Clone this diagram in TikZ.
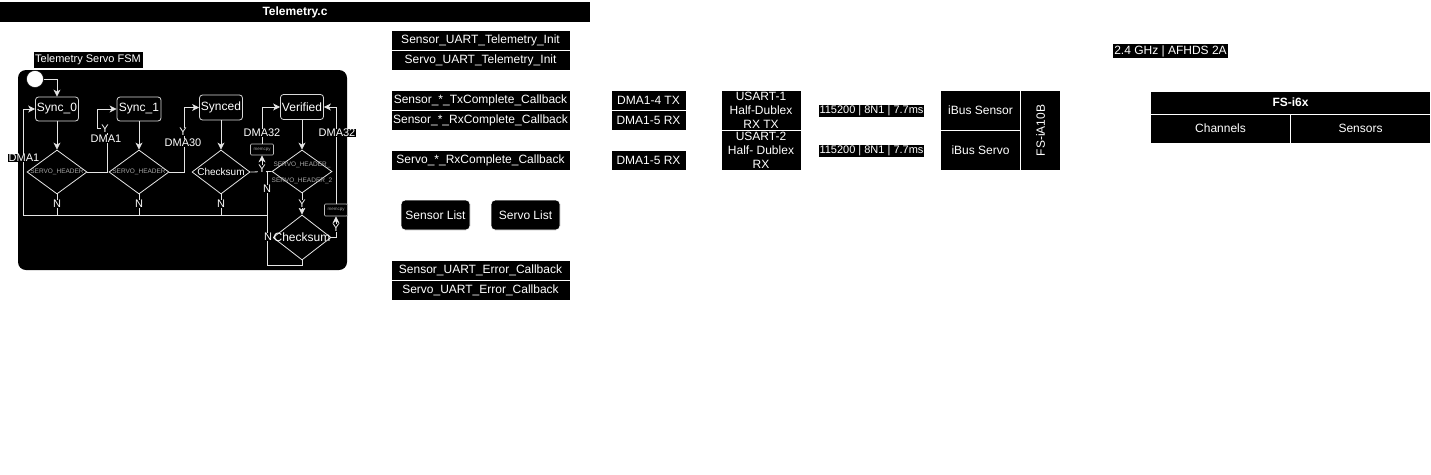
\documentclass[tikz,border=0pt]{standalone}
\usepackage{fontspec}
\setmainfont{Liberation Sans}
\usetikzlibrary{shapes.geometric,arrows.meta}
\newcommand\fsz[1]{\fontsize{#1}{#1}\selectfont}
\begin{document}
\begin{tikzpicture}[x=1pt,y=-1pt,
 blk/.style={fill=black,draw=white,text=white,inner sep=0pt,font=\fsz{12},line width=0.8pt},
 stbox/.style={draw=white!85!black,rounded corners=3pt,text=white,inner sep=0pt,font=\fsz{12},line width=0.8pt},
 dia/.style={diamond,draw=white!90!black,inner sep=0pt,line width=0.8pt},
 tinytxt/.style={text=white!65!black,font=\fsz{6.5},inner sep=0pt},
 lbl/.style={fill=black,text=white,inner sep=0.6pt,font=\fsz{11}},
 wire/.style={draw=white!90!black,line width=0.8pt},
 arr/.style={wire,-{Stealth[length=7pt,width=7pt,inset=2pt]}},
 mem/.style={draw=white!75!black,fill=black,rounded corners=1pt,inner sep=0pt,text=white!65!black,font=\fsz{4.5},line width=0.6pt},
 tag/.style={fill=black,text=white,inner sep=1pt}
]
\fill[white] (0,0) rectangle (1431,474);
\path[use as bounding box] (0,0) rectangle (1431,474);

% title
\node[fill=black,inner sep=0pt,minimum width=590pt,minimum height=20pt,text=white,font=\bfseries\fsz{12}] (title) at (295,12) {Telemetry.c};

% FSM background
\node[fill=black,rounded corners=8pt,minimum width=329pt,minimum height=200pt,inner sep=0pt] (fsm) at (182.5,170) {};
\node[fill=black,draw=white,text=white,inner sep=0pt,minimum width=110pt,minimum height=17pt,font=\fsz{11}] (fsml) at (88,59.5) {Telemetry Servo FSM};
\node[circle,fill=white,draw=black,minimum size=17pt,inner sep=0pt] (start) at (35,79) {};

% states
\node[stbox,minimum width=43pt,minimum height=24pt] (s0) at (57,109) {Sync\_0};
\node[stbox,minimum width=44pt,minimum height=24pt] (s1) at (139,109) {Sync\_1};
\node[stbox,minimum width=43pt,minimum height=25pt] (sy) at (221,107.5) {Synced};
\node[stbox,minimum width=43pt,minimum height=25pt] (ve) at (302,107) {Verified};

% decisions
\node[dia,minimum width=60pt,minimum height=44pt] (d1) at (57,172) {};
\node[tinytxt] (t1) at (d1) {SERVO\_HEADER};
\node[dia,minimum width=60pt,minimum height=44pt] (d2) at (139,172) {};
\node[tinytxt] (t2) at (d2) {SERVO\_HEADER};
\node[dia,minimum width=58pt,minimum height=44pt] (d3) at (221,172) {};
\node[text=white,font=\fsz{10},inner sep=0pt] (t3) at (d3) {Checksum};
\node[dia,minimum width=60pt,minimum height=43pt] (d4) at (302,171.5) {};
\node[tinytxt] (t4a) at (302,165) {SERVO\_HEADER\_};
\node[tinytxt] (t4b) at (302,181) {SERVO\_HEADER\_2};
\node[dia,minimum width=58pt,minimum height=45pt] (d5) at (302,237.5) {};
\node[text=white,font=\fsz{12},inner sep=0pt] (t5) at (d5) {Checksum};

% memcpy boxes
\node[mem,minimum width=23pt,minimum height=11pt] (m1) at (262,149.5) {memcpy};
\node[mem,minimum width=23pt,minimum height=12pt] (m2) at (336,210) {memcpy};

% junction coordinates
\coordinate (jr) at (267,215);
\coordinate (jl) at (23,215);

% wires
\draw[arr] (start.east) -| (s0.north);
\draw[arr] (s0.south) -- (d1.north);
\draw[arr] (s1.south) -- (d2.north);
\draw[arr] (sy.south) -- (d3.north);
\draw[arr] (ve.south) -- (d4.north);
\draw[arr] (d1.east) -- (107,172) -- (107,128) -- (97,128) -- (97,109) -- (s1.west);
\draw[arr] (d2.east) -- (184,172) -- (184,107.5) -- (sy.west);
\draw[wire] (d3.east) -- (d4.west);
\draw[arr] (262,172) -- (m1.south);
\draw[arr] (m1.north) -- (262,107) -- (ve.west);
\draw[wire] (267,171.5) -- (267,265) -- (302,265) -- (d5.south);
\draw[arr] (d4.south) -- (d5.north);
\draw[arr] (d5.east) -- (336,237.5) -- (m2.south);
\draw[arr] (m2.north) -- (336,107) -- (ve.east);
\draw[arr] (jr) -- (jl) -- (23,109) -- (s0.west);
\draw[wire] (d1.south) -- (57,215);
\draw[wire] (d2.south) -- (139,215);
\draw[wire] (d3.south) -- (221,215);

% labels
\node[lbl] (ly1) at (105,129) {Y};
\node[lbl] (ld1) at (106,139) {DMA1};
\node[lbl] (ly2) at (183,132) {Y};
\node[lbl] (ld2) at (183,143) {DMA30};
\node[lbl] (ly3) at (262,169) {Y};
\node[lbl] (ld3) at (262,133) {DMA32};
\node[lbl] (ln4) at (267,189) {N};
\node[lbl] (ln5) at (268,237) {N};
\node[lbl] (ly4) at (302,204) {Y};
\node[lbl] (ly5) at (336,228) {Y};
\node[lbl] (ld5) at (337,133) {DMA32};
\node[lbl] (ld0) at (24,158) {DMA1};
\node[lbl] (ln1) at (57,204) {N};
\node[lbl] (ln2) at (139,204) {N};
\node[lbl] (ln3) at (221,204) {N};

% function boxes
\node[blk,minimum width=179pt,minimum height=20pt] (b1) at (480.5,40.5) {Sensor\_UART\_Telemetry\_Init};
\node[blk,minimum width=179pt,minimum height=20pt] (b2) at (480.5,60.5) {Servo\_UART\_Telemetry\_Init};
\node[blk,minimum width=179pt,minimum height=20pt] (b3) at (480.5,100.5) {Sensor\_*\_TxComplete\_Callback};
\node[blk,minimum width=179pt,minimum height=20pt] (b4) at (480.5,120.5) {Sensor\_*\_RxComplete\_Callback};
\node[blk,minimum width=179pt,minimum height=20pt] (b5) at (480.5,160.5) {Servo\_*\_RxComplete\_Callback};
\node[blk,minimum width=179pt,minimum height=20pt] (b6) at (480.5,270.5) {Sensor\_UART\_Error\_Callback};
\node[blk,minimum width=179pt,minimum height=20pt] (b7) at (480.5,290.5) {Servo\_UART\_Error\_Callback};
\node[blk,rounded corners=4pt,minimum width=69pt,minimum height=30pt] (sl) at (435.5,215) {Sensor List};
\node[blk,rounded corners=4pt,minimum width=69pt,minimum height=30pt] (vl) at (525.5,215) {Servo List};

% DMA
\node[blk,minimum width=75pt,minimum height=20pt] (dm1) at (648.5,100.5) {DMA1-4 TX};
\node[blk,minimum width=75pt,minimum height=20pt] (dm2) at (648.5,120.5) {DMA1-5 RX};
\node[blk,minimum width=75pt,minimum height=20pt] (dm3) at (648.5,160.5) {DMA1-5 RX};

% USART
\node[blk,minimum width=80pt,minimum height=40pt,align=center,font=\fontsize{12}{14}\selectfont] (u1) at (761,110.5) {USART-1\\Half-Dublex\\RX TX};
\node[blk,minimum width=80pt,minimum height=40pt,align=center,font=\fontsize{12}{14}\selectfont] (u2) at (761,150.5) {USART-2\\Half- Dublex\\RX};

\node[tag,font=\fsz{11}] (bd1) at (871.5,111) {115200 | 8N1 | 7.7ms};
\node[tag,font=\fsz{11}] (bd2) at (871.5,151) {115200 | 8N1 | 7.7ms};

% receiver
\node[blk,minimum width=80pt,minimum height=40pt] (ib1) at (980.5,110.5) {iBus Sensor};
\node[blk,minimum width=80pt,minimum height=40pt] (ib2) at (980.5,150.5) {iBus Servo};
\node[blk,minimum width=40pt,minimum height=80pt] (rx) at (1040.5,130.5) {};
\node[text=white,font=\fsz{12},rotate=90,inner sep=0pt] (rxt) at (rx) {FS-iA10B};

\node[tag,font=\fsz{12}] (rf) at (1170.5,51) {2.4 GHz | AFHDS 2A};

% transmitter
\node[blk,minimum width=280pt,minimum height=23pt,font=\bfseries\fsz{12}] (tx) at (1290.5,102.5) {FS-i6x};
\node[blk,minimum width=140pt,minimum height=29pt] (ch) at (1220.5,128.5) {Channels};
\node[blk,minimum width=140pt,minimum height=29pt] (se) at (1360.5,128.5) {Sensors};
\end{tikzpicture}
\end{document}
